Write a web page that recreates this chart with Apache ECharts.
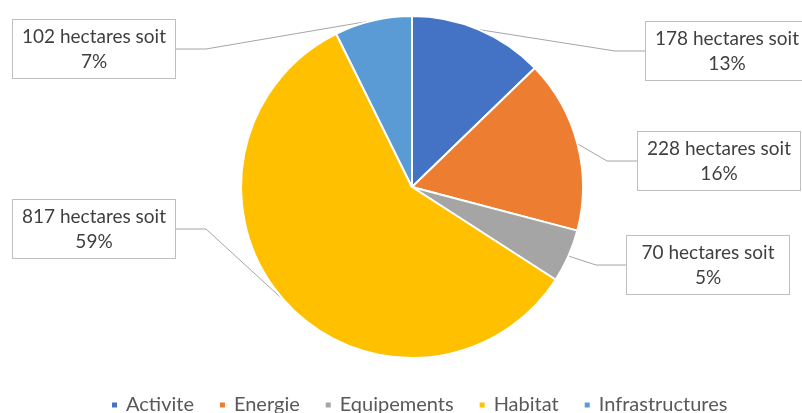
<!DOCTYPE html>
<html>
<head>
<meta charset="utf-8">
<script src="https://cdn.jsdelivr.net/npm/echarts@6/dist/echarts.min.js"></script>
<style>
  html, body { margin: 0; padding: 0; background: #fff; }
  #chart { width: 802px; height: 413px; }
</style>
</head>
<body>
<div id="chart"></div>
<script>
// données (hectares)
const categories = ['Activite', 'Energie', 'Equipements', 'Habitat', 'Infrastructures'];
const hectares = [178, 228, 70, 817, 102];
const colors = ['#4472C4', '#ED7D31', '#A5A5A5', '#FFC000', '#5B9BD5'];

// emplacement des étiquettes (centre de chaque encadré)
const calloutAt = [[727, 51], [719, 161], [708, 265], [94, 229], [94, 49]];

const chart = echarts.init(document.getElementById('chart'), null, { renderer: 'canvas' });

chart.setOption({
  backgroundColor: '#fff',
  color: colors,
  animation: false,
  legend: {
    bottom: -7,
    left: 105,
    icon: 'rect',
    itemWidth: 7,
    itemHeight: 7,
    itemGap: 24,
    textStyle: { color: '#595959', fontSize: 20, fontFamily: 'Lato', padding: [0, 0, 0, 3] },
    data: categories
  },
  series: [{
    type: 'pie',
    center: [412, 187],
    radius: [0, 171],
    startAngle: 90,
    clockwise: true,
    percentPrecision: 0,
    itemStyle: { borderColor: '#fff', borderWidth: 2 },
    label: {
      show: true,
      formatter: '{c} hectares soit\n{d}%',
      color: '#3F3F3F',
      fontSize: 19,
      fontFamily: 'Lato',
      lineHeight: 25,
      align: 'center',
      backgroundColor: '#fff',
      borderColor: '#BFBFBF',
      borderWidth: 1,
      padding: [4, 6],
      width: 150
    },
    labelLine: {
      show: true,
      lineStyle: { color: '#A6A6A6', width: 1 }
    },
    labelLayout: function (p) {
      const pos = calloutAt[p.dataIndex];
      return { x: pos[0], y: pos[1], align: 'center', verticalAlign: 'middle' };
    },
    emphasis: { disabled: true },
    data: categories.map((name, i) => ({ name: name, value: hectares[i] }))
  }]
});
</script>
</body>
</html>
